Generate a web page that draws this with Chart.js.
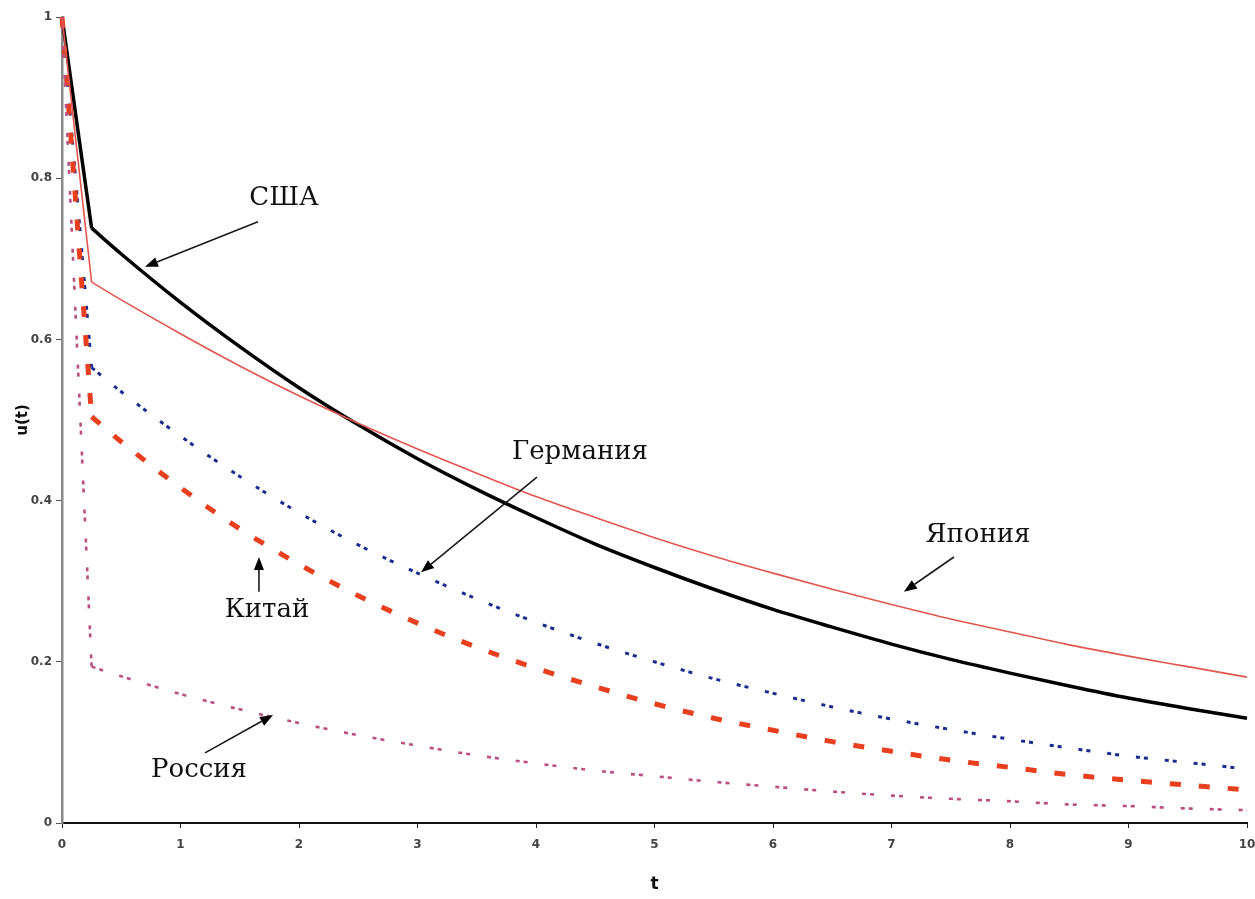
<!DOCTYPE html>
<html>
<head>
<meta charset="utf-8">
<script src="https://cdn.jsdelivr.net/npm/chart.js@4/dist/chart.umd.min.js"></script>
<style>
  html, body { margin: 0; padding: 0; background: #fff; }
  #wrap { width: 1255px; height: 899px; }
</style>
</head>
<body>
<div id="wrap"><canvas id="uChart"></canvas></div>
<script>
// значения t (ось X)
var tValues = [0, 0.25, 0.5, 1, 1.5, 2, 2.5, 3, 3.5, 4, 4.5, 5, 5.5, 6, 6.5, 7, 7.5, 8, 8.5, 9, 9.5, 10];

// u(t) по странам
var usa     = [1, 0.738, 0.706, 0.646, 0.591, 0.540, 0.494, 0.452, 0.414, 0.379, 0.346, 0.317, 0.290, 0.265, 0.243, 0.222, 0.203, 0.186, 0.170, 0.155, 0.142, 0.130];
var japan   = [1, 0.671, 0.649, 0.607, 0.567, 0.530, 0.496, 0.464, 0.434, 0.405, 0.379, 0.354, 0.331, 0.310, 0.290, 0.271, 0.253, 0.237, 0.221, 0.207, 0.194, 0.181];
var germany = [1, 0.565, 0.535, 0.480, 0.430, 0.385, 0.345, 0.310, 0.278, 0.249, 0.223, 0.200, 0.179, 0.161, 0.144, 0.129, 0.116, 0.104, 0.093, 0.083, 0.075, 0.067];
var china   = [1, 0.504, 0.473, 0.416, 0.365, 0.321, 0.282, 0.248, 0.218, 0.192, 0.169, 0.148, 0.130, 0.115, 0.101, 0.089, 0.078, 0.069, 0.060, 0.053, 0.047, 0.041];
var russia  = [1, 0.194, 0.182, 0.160, 0.141, 0.124, 0.109, 0.096, 0.084, 0.074, 0.065, 0.058, 0.051, 0.045, 0.039, 0.034, 0.030, 0.027, 0.023, 0.021, 0.018, 0.016];

// подписи делений
var xTickLabels = ['0', '1', '2', '3', '4', '5', '6', '7', '8', '9', '10'];
var yTickLabels = ['0', '0.2', '0.4', '0.6', '0.8', '1'];

// подписи стран со стрелками (в координатах данных)
var notes = [
    { text: 'США',      tx: 1.873, ty: 0.775, ax: 1.654, ay: 0.746, bx: 0.700, by: 0.690 },
    { text: 'Германия', tx: 4.371, ty: 0.460, ax: 4.008, ay: 0.429, bx: 3.030, by: 0.311 },
    { text: 'Япония',   tx: 7.730, ty: 0.357, ax: 7.527, ay: 0.330, bx: 7.105, by: 0.287 },
    { text: 'Китай',    tx: 1.730, ty: 0.264, ax: 1.662, ay: 0.287, bx: 1.662, by: 0.330 },
    { text: 'Россия',   tx: 1.156, ty: 0.066, ax: 1.207, ay: 0.087, bx: 1.781, by: 0.134 }
];

// точки от from до to (включительно)
function toPoints(values, from, to) {
    var pts = [];
    for (var i = from; i <= to; i++) {
        pts.push({ x: tValues[i], y: values[i] });
    }
    return pts;
}

// каждая кривая: прямой спуск до t=0.25 + гладкий хвост
var series = [
    { name: 'Япония',   values: japan,   color: '#e2564e', width: 1.6, dash: [] },
    { name: 'Россия',   values: russia,  color: '#b9507f', width: 2.6, dash: [4, 4, 4, 17] },
    { name: 'Китай',    values: china,   color: '#e8401e', width: 5,   dash: [11, 18] },
    { name: 'Германия', values: germany, color: '#1c2b8f', width: 3,   dash: [4, 4, 4, 17] },
    { name: 'США',      values: usa,     color: '#000000', width: 3.5, dash: [] }
];

var datasets = [];
series.forEach(function(s) {
    var last = tValues.length - 1;
    datasets.push({ label: s.name, data: toPoints(s.values, 0, 1), borderColor: s.color,
        borderWidth: s.width, borderDash: s.dash, tension: 0 });
    datasets.push({ label: s.name, data: toPoints(s.values, 1, last), borderColor: s.color,
        borderWidth: s.width, borderDash: s.dash, cubicInterpolationMode: 'monotone' });
});

// рисуем подписи и стрелки
var notesPlugin = {
    id: 'notes',
    afterDatasetsDraw: function(chart) {
        var ctx = chart.ctx;
        var xs = chart.scales.x;
        var ys = chart.scales.y;
        ctx.save();
        notes.forEach(function(n) {
            var x1 = xs.getPixelForValue(n.ax), y1 = ys.getPixelForValue(n.ay);
            var x2 = xs.getPixelForValue(n.bx), y2 = ys.getPixelForValue(n.by);
            var ang = Math.atan2(y2 - y1, x2 - x1);
            var len = 13, half = 5;
            var bx = x2 - len * Math.cos(ang), by = y2 - len * Math.sin(ang);
            ctx.strokeStyle = '#1a1a1a';
            ctx.fillStyle = '#000';
            ctx.lineWidth = 1.6;
            ctx.beginPath();
            ctx.moveTo(x1, y1);
            ctx.lineTo(bx, by);
            ctx.stroke();
            ctx.beginPath();
            ctx.moveTo(x2, y2);
            ctx.lineTo(bx + half * Math.sin(ang), by - half * Math.cos(ang));
            ctx.lineTo(bx - half * Math.sin(ang), by + half * Math.cos(ang));
            ctx.closePath();
            ctx.fill();

            ctx.font = '26px "DejaVu Serif", "Liberation Serif", serif';
            ctx.fillStyle = '#111';
            ctx.textAlign = 'center';
            ctx.textBaseline = 'middle';
            ctx.fillText(n.text, xs.getPixelForValue(n.tx), ys.getPixelForValue(n.ty));
        });
        ctx.restore();
    }
};

var ctx = document.getElementById('uChart').getContext('2d');

var uChart = new Chart(ctx, {
    type: 'line',
    data: { datasets: datasets },
    options: {
        responsive: true,
        maintainAspectRatio: false,
        animation: false,
        elements: {
            point: { radius: 0 },
            line: { fill: false, borderCapStyle: 'butt' }
        },
        datasets: { line: { clip: false } },
        layout: { padding: { left: 0, top: 17, right: 8, bottom: 0 } },
        plugins: {
            legend: { display: false },
            tooltip: { enabled: false }
        },
        scales: {
            x: {
                type: 'linear',
                min: 0,
                max: 10,
                afterFit: function(scale) {
                    scale.height = 76;
                    scale.paddingLeft = 0;
                    scale.paddingRight = 0;
                },
                afterBuildTicks: function(scale) {
                    scale.ticks = xTickLabels.map(function(l) { return { value: parseFloat(l) }; });
                },
                ticks: {
                    callback: function(v) { return xTickLabels[Math.round(v)]; },
                    color: '#444',
                    font: { family: 'DejaVu Sans', size: 12, weight: 'bold' },
                    padding: 10,
                    maxRotation: 0
                },
                grid: { drawOnChartArea: false, drawTicks: true, tickLength: 5, color: '#222' },
                border: { color: '#111', width: 2 },
                title: {
                    display: true,
                    text: 't',
                    color: '#111',
                    font: { family: 'DejaVu Sans', size: 17, weight: 'bold' },
                    padding: { top: 14 }
                }
            },
            y: {
                min: 0,
                max: 1,
                afterFit: function(scale) {
                    scale.width = 62;
                    scale.paddingTop = 0;
                    scale.paddingBottom = 0;
                },
                afterBuildTicks: function(scale) {
                    scale.ticks = yTickLabels.map(function(l) { return { value: parseFloat(l) }; });
                },
                ticks: {
                    callback: function(v) { return yTickLabels[Math.round(v * 5)]; },
                    color: '#444',
                    font: { family: 'DejaVu Sans', size: 12, weight: 'bold' },
                    padding: 4
                },
                grid: { drawOnChartArea: false, drawTicks: true, tickLength: 6, color: '#555' },
                border: { color: '#8a8a8a', width: 2.5 },
                title: {
                    display: true,
                    text: 'u(t)',
                    color: '#111',
                    font: { family: 'DejaVu Sans', size: 15, weight: 'bold' },
                    padding: { top: 14 }
                }
            }
        }
    },
    plugins: [notesPlugin]
});
</script>
</body>
</html>
